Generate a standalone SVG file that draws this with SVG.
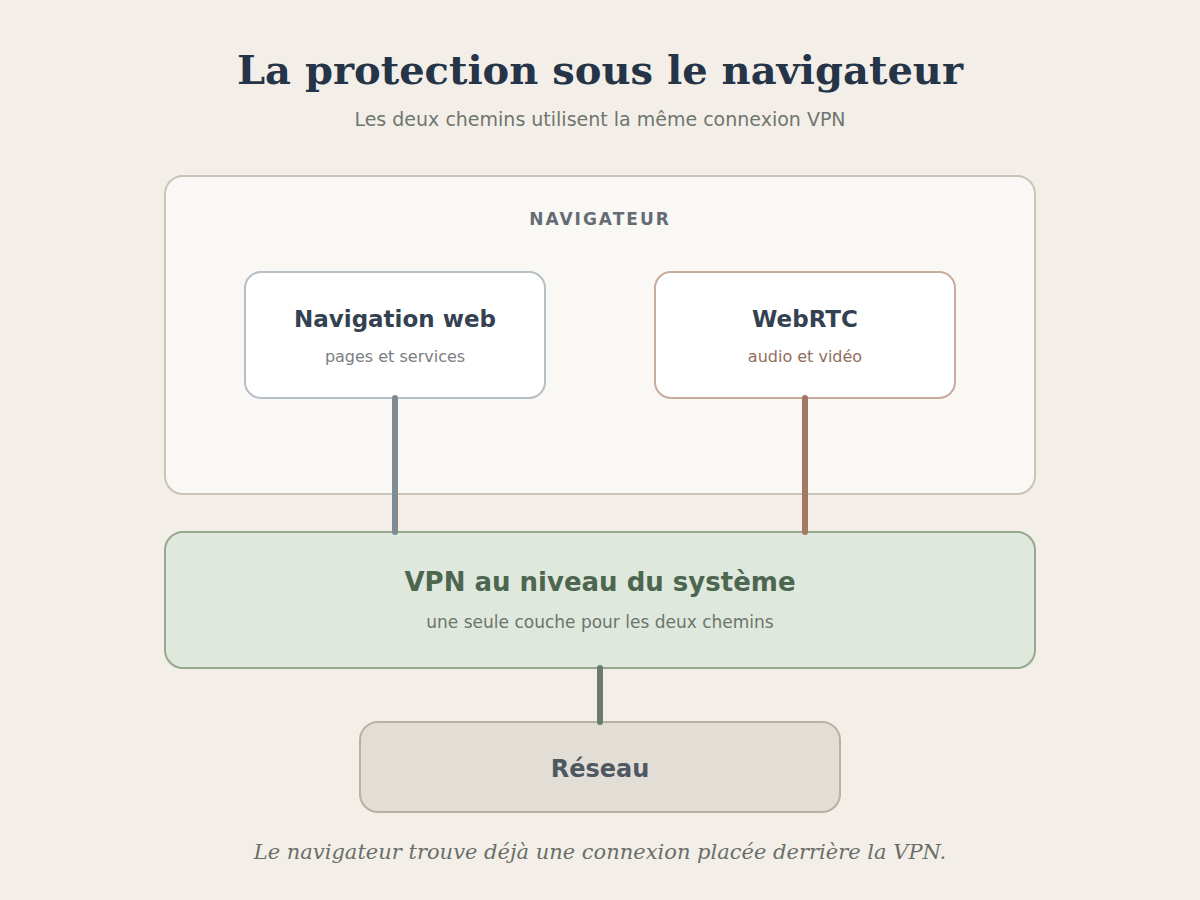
<svg xmlns="http://www.w3.org/2000/svg" width="1200" height="900" viewBox="0 0 1200 900">
<style>
.t{font-family:"DejaVu Serif",serif;font-weight:bold;font-size:40px;fill:#253447}
.s{font-family:"DejaVu Sans",sans-serif;font-size:19px;fill:#6f756f}
.h{font-family:"DejaVu Sans",sans-serif;font-weight:bold;font-size:23px;fill:#334150}
.sm{font-family:"DejaVu Sans",sans-serif;font-size:16px}
.f{font-family:"DejaVu Serif",serif;font-style:italic;font-size:21px;fill:#6a6e68}
</style>
<rect width="1200" height="900" fill="#f3efe8"/>
<text class="t" x="600" y="84" text-anchor="middle">La protection sous le navigateur</text>
<text class="s" x="600" y="126" text-anchor="middle">Les deux chemins utilisent la même connexion VPN</text>
<g id="navigateur">
<rect x="165" y="176" width="870" height="318" rx="18" fill="#faf8f4" stroke="#c9c3b8" stroke-width="2"/>
<text x="600" y="225" text-anchor="middle" font-family="DejaVu Sans,sans-serif" font-weight="bold" font-size="17" letter-spacing="2" fill="#666c74">NAVIGATEUR</text>
</g>
<g id="web">
<rect x="245" y="272" width="300" height="126" rx="16" fill="#ffffff" stroke="#b5bfc5" stroke-width="2"/>
<text class="h" x="395" y="327" text-anchor="middle">Navigation web</text>
<text class="sm" x="395" y="362" text-anchor="middle" fill="#7a7e82">pages et services</text>
</g>
<g id="webrtc">
<rect x="655" y="272" width="300" height="126" rx="16" fill="#ffffff" stroke="#c8ab9e" stroke-width="2"/>
<text class="h" x="805" y="327" text-anchor="middle">WebRTC</text>
<text class="sm" x="805" y="362" text-anchor="middle" fill="#8f6e60">audio et vidéo</text>
</g>
<g id="vpn">
<rect x="165" y="532" width="870" height="136" rx="18" fill="#dfe8dc" stroke="#97a78f" stroke-width="2"/>
<text x="600" y="591" text-anchor="middle" font-family="DejaVu Sans,sans-serif" font-weight="bold" font-size="26" fill="#4d6650">VPN au niveau du système</text>
<text x="600" y="628" text-anchor="middle" font-family="DejaVu Sans,sans-serif" font-size="17" fill="#6c756c">une seule couche pour les deux chemins</text>
</g>
<g id="reseau">
<rect x="360" y="722" width="480" height="90" rx="18" fill="#e2ded6" stroke="#b6b2a4" stroke-width="2"/>
<text x="600" y="777" text-anchor="middle" font-family="DejaVu Sans,sans-serif" font-weight="bold" font-size="24" fill="#4f5862">Réseau</text>
</g>
<g id="connectors" stroke-width="6" stroke-linecap="round">
<line x1="395" y1="398" x2="395" y2="532" stroke="#7f8b93"/>
<line x1="805" y1="398" x2="805" y2="532" stroke="#a57765"/>
<line x1="600" y1="668" x2="600" y2="722" stroke="#6a7a6e"/>
</g>
<text class="f" x="600" y="859" text-anchor="middle">Le navigateur trouve déjà une connexion placée derrière la VPN.</text>
</svg>
